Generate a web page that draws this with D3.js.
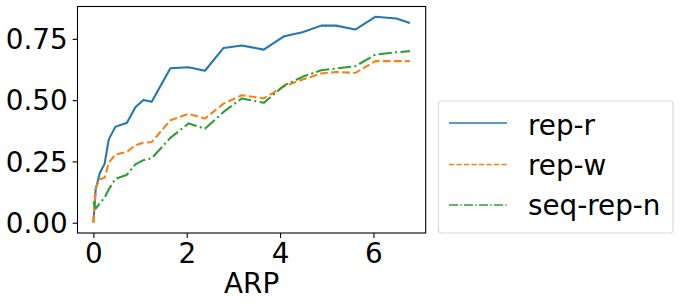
<!DOCTYPE html>
<html><head><meta charset="utf-8">
<script src="https://cdn.jsdelivr.net/npm/d3@7"></script>
<style>body{margin:0;background:#fff}svg{display:block}text{font-family:"DejaVu Sans",sans-serif}</style>
</head><body>
<script>
const arp = [0, 0.05, 0.14, 0.24, 0.33, 0.47, 0.72, 0.9, 1.07, 1.25, 1.65, 2.04, 2.39, 2.79, 3.18, 3.65, 4.09, 4.48, 4.88, 5.2, 5.61, 6.04, 6.49, 6.78];
const repR = [0, 0.136, 0.204, 0.24, 0.34, 0.391, 0.408, 0.471, 0.501, 0.493, 0.63, 0.634, 0.62, 0.713, 0.723, 0.706, 0.761, 0.777, 0.804, 0.804, 0.788, 0.84, 0.833, 0.815];
const repW = [0, 0.143, 0.177, 0.183, 0.245, 0.278, 0.289, 0.316, 0.326, 0.329, 0.418, 0.444, 0.425, 0.486, 0.52, 0.507, 0.557, 0.584, 0.609, 0.615, 0.611, 0.659, 0.659, 0.659];
const seqRepN = [0.085, 0.058, 0.08, 0.102, 0.136, 0.179, 0.196, 0.238, 0.255, 0.263, 0.346, 0.405, 0.383, 0.452, 0.507, 0.489, 0.56, 0.595, 0.622, 0.629, 0.638, 0.686, 0.695, 0.70];
const seriesNames = ["rep-r", "rep-w", "seq-rep-n"];
const xTicks = [0, 2, 4, 6];
const yTicks = [0, 0.25, 0.5, 0.75];
const xLabel = "ARP";

const W = 681, H = 307;
const L = 77.5, R = 425.7, T = 6.5, B = 233;
const svg = d3.select("body").append("svg").attr("width", W).attr("height", H);

const x = d3.scaleLinear().domain([-0.34, 7.12]).range([L, R]);
const y = d3.scaleLinear().domain([-0.042, 0.882]).range([B, T]);

const fs = 27.8;
const lw = 2.08;
const series = [
  {name: seriesNames[0], vals: repR, color: "#1f77b4", dash: null, ldash: null},
  {name: seriesNames[1], vals: repW, color: "#ff7f0e", dash: [7.7, 3.3], ldash: [5.2, 2.3]},
  {name: seriesNames[2], vals: seqRepN, color: "#2ca02c", dash: [13.3, 3.3, 2.1, 3.3], ldash: [9, 2.3, 1.4, 2.3]}
];

const line = d3.line().x(d => x(d[0])).y(d => y(d[1]));
series.forEach(s => {
  svg.append("path")
    .attr("d", line(arp.map((a, i) => [a, s.vals[i]])))
    .attr("fill", "none").attr("stroke", s.color).attr("stroke-width", lw)
    .attr("stroke-linejoin", "round")
    .attr("stroke-dasharray", s.dash ? s.dash.join(",") : null);
});

// axes
const xAxis = svg.append("g").attr("transform", `translate(0,${B})`)
  .call(d3.axisBottom(x).tickValues(xTicks).tickFormat(d3.format("d")).tickSize(4.9).tickPadding(4));
const yAxis = svg.append("g").attr("transform", `translate(${L},0)`)
  .call(d3.axisLeft(y).tickValues(yTicks).tickFormat(d3.format(".2f")).tickSize(4.9).tickPadding(5));
[xAxis, yAxis].forEach(g => {
  g.select(".domain").remove();
  g.selectAll("line").attr("stroke", "#000").attr("stroke-width", 1.1);
  g.selectAll("text").attr("font-size", fs).attr("fill", "#000").attr("font-family", "DejaVu Sans");
});
xAxis.selectAll("text").attr("dy", "0.76em");
yAxis.selectAll("text").attr("dy", "0.35em");

svg.append("rect").attr("x", L).attr("y", T).attr("width", R - L).attr("height", B - T)
  .attr("fill", "none").attr("stroke", "#000").attr("stroke-width", 1.1);

svg.append("text").attr("x", (L + R) / 2).attr("y", 293).attr("text-anchor", "middle")
  .attr("font-size", fs).attr("fill", "#000").text(xLabel);

// legend
const lg = svg.append("g");
lg.append("rect").attr("x", 438.5).attr("y", 101).attr("width", 234.5).attr("height", 132)
  .attr("rx", 3).attr("fill", "#fff").attr("stroke", "#d9d9d9").attr("stroke-width", 1.1);
const rowY = [123, 164.5, 205];
const baseY = [134.5, 175, 215];
series.forEach((s, i) => {
  lg.append("line").attr("x1", 449).attr("x2", 507).attr("y1", rowY[i]).attr("y2", rowY[i])
    .attr("stroke", s.color).attr("stroke-width", 1.4)
    .attr("stroke-dasharray", s.ldash ? s.ldash.join(",") : null);
  lg.append("text").attr("x", 528).attr("y", baseY[i])
    .attr("font-size", fs).attr("fill", "#000").text(s.name);
});
</script>
</body></html>
